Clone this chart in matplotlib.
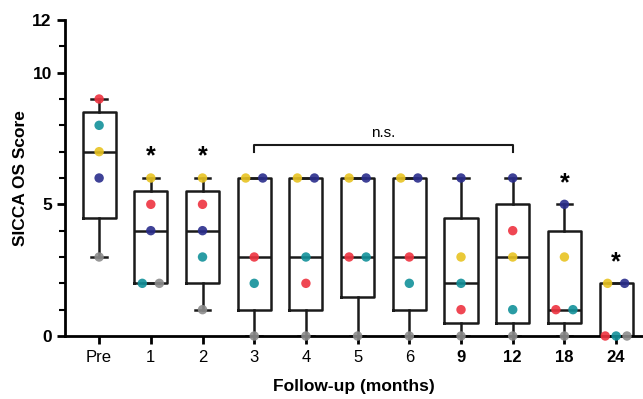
import matplotlib
matplotlib.use("Agg")
import matplotlib.pyplot as plt
import numpy as np

plt.rcParams['font.family'] = ['Liberation Sans', 'DejaVu Sans']

# follow-up time points
labels = ['Pre', '1', '2', '3', '4', '5', '6', '9', '12', '18', '24']
bold_labels = ['9', '12', '18', '24']

# SICCA OS score of each patient at each time point
red    = [9, 5, 5, 3, 2, 3, 3, 1, 4, 1, 0]
teal   = [8, 2, 3, 2, 3, 3, 2, 2, 1, 1, 0]
yellow = [7, 6, 6, 6, 6, 6, 6, 3, 3, 3, 2]
navy   = [6, 4, 4, 6, 6, 6, 6, 6, 6, 5, 2]
gray   = [3, 2, 1, 0, 0, 0, 0, 0, 0, 0, 0]

patients = [red, teal, yellow, navy, gray]
colors = ['#EE3340', '#13919A', '#E8C322', '#2A2D8C', '#8C8C8C']

stars = ['1', '2', '18', '24']

fig = plt.figure(figsize=(6.43, 3.99), dpi=100)
ax = fig.add_axes([65/643, 63/399, 578/643, 316/399])

x = np.arange(len(labels))

# box stats, GraphPad style quartiles
stats = []
for i in range(len(labels)):
    v = np.array([p[i] for p in patients])
    q1, med, q3 = np.percentile(v, [25, 50, 75], method='weibull')
    stats.append(dict(med=med, q1=q1, q3=q3, whislo=v.min(), whishi=v.max(), fliers=[]))

ax.bxp(stats, positions=x, widths=0.64, showfliers=False, patch_artist=False,
       boxprops=dict(color='#1a1a1a', lw=1.8),
       medianprops=dict(color='#1a1a1a', lw=1.8),
       whiskerprops=dict(color='#1a1a1a', lw=1.8),
       capprops=dict(color='#1a1a1a', lw=1.8),
       capwidths=0.3)

# dots, ties spread sideways
for i in range(len(labels)):
    vals = [p[i] for p in patients]
    for val in set(vals):
        idx = [k for k in range(len(vals)) if vals[k] == val]
        n = len(idx)
        step = 0.33 if n == 2 else 0.21
        offs = (np.arange(n) - (n - 1) / 2) * step
        for k, o in zip(idx, offs):
            ax.scatter(x[i] + o, val, s=46, color=colors[k], alpha=0.9,
                       edgecolor='none', zorder=5, clip_on=False)

# significance stars
for lab in stars:
    i = labels.index(lab)
    top = max(p[i] for p in patients)
    ax.text(x[i], top + 0.35, '*', ha='center', va='bottom', fontsize=18,
            fontweight='bold')

# n.s. bracket 3 .. 12
a, b = labels.index('3'), labels.index('12')
ax.plot([x[a], x[a], x[b], x[b]], [7.0, 7.25, 7.25, 7.0], color='#1a1a1a', lw=1.5)
ax.text((x[a] + x[b]) / 2, 7.45, 'n.s.', ha='center', va='bottom', fontsize=11)

ax.set_xlim(-0.66, 10.52)
ax.set_ylim(0, 12)
ax.set_yticks([0, 5, 10, 12])
ax.set_yticks(range(13), minor=True)
ax.set_xticks(x)
ax.set_xticklabels(labels, fontsize=12)
for t in ax.get_xticklabels():
    if t.get_text() in bold_labels:
        t.set_fontweight('bold')
for t in ax.get_yticklabels():
    t.set_fontweight('bold')
    t.set_fontsize(12.5)

ax.spines['top'].set_visible(False)
ax.spines['right'].set_visible(False)
ax.spines['left'].set_linewidth(2)
ax.spines['bottom'].set_linewidth(2)
ax.tick_params(axis='both', which='major', width=2, length=6)
ax.tick_params(axis='y', which='minor', width=1.5, length=4)
ax.tick_params(axis='x', pad=4)

ax.set_ylabel('SICCA OS Score', fontsize=12.5, fontweight='bold', labelpad=3)
ax.set_xlabel('Follow-up (months)', fontsize=12.5, fontweight='bold', labelpad=10)

fig.savefig('out.png', dpi=100)
